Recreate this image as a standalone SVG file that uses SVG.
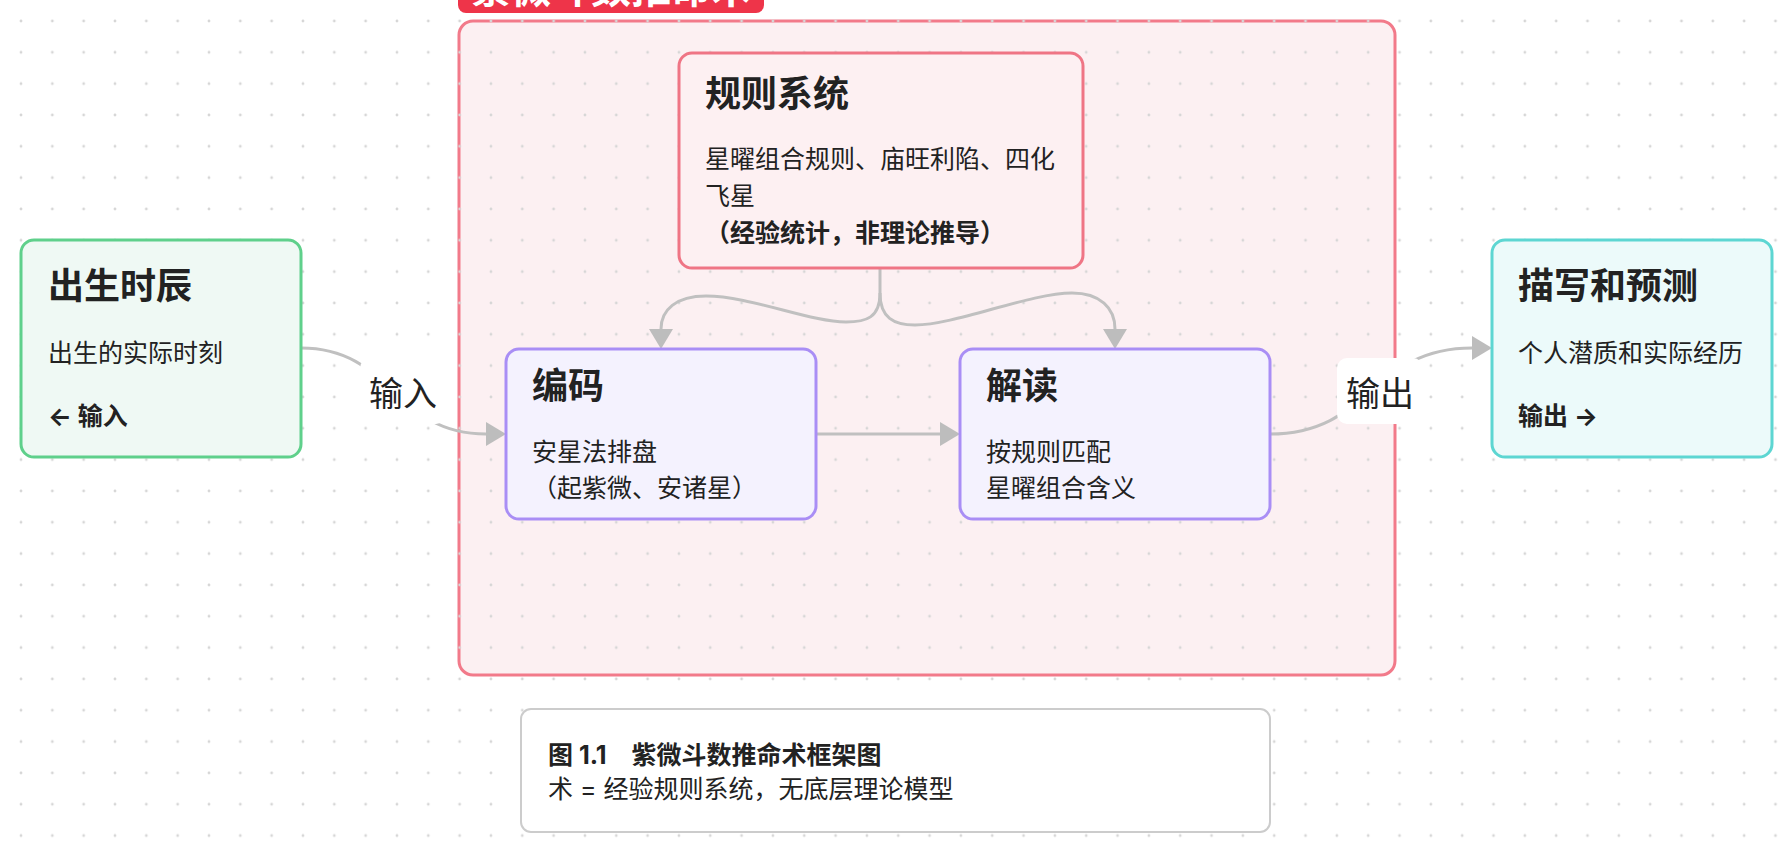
<svg xmlns="http://www.w3.org/2000/svg" width="1792" height="854" viewBox="0 0 1792 854">
<defs>
<pattern id="dots" patternUnits="userSpaceOnUse" x="5.335" y="5.335" width="31.33" height="31.33">
<circle cx="15.665" cy="15.665" r="1.4" fill="#d6d6d6"/>
</pattern>
<marker id="arr" markerUnits="userSpaceOnUse" markerWidth="20" markerHeight="24" refX="0" refY="12" orient="auto">
<path d="M0,0 L20,12 L0,24 z" fill="#bdbdbd"/>
</marker>
<style>
text{font-family:Inter,"Noto Sans CJK SC",sans-serif;fill:#222222;}
.title{font-size:36px;font-weight:700;}
.body{font-size:25px;font-weight:400;}
.bold{font-size:25px;font-weight:700;}
.elabel{font-size:34px;font-weight:400;text-anchor:middle;}
.edge{fill:none;stroke:#c0c0c0;stroke-width:3;}
.node{stroke-width:3;}
</style>
</defs>
<rect x="0" y="0" width="1792" height="854" fill="#ffffff"/>
<g id="cluster">
<rect x="459" y="21" width="936" height="654" rx="14" fill="#fcf0f2" stroke="#f27a8a" stroke-width="3"/>
</g>
<rect x="0" y="0" width="1792" height="854" fill="url(#dots)"/>
<g id="cluster-label">
<rect x="458" y="-30" width="306" height="43" rx="8" fill="#ee3449"/>
<text x="611" y="3" text-anchor="middle" style="font-size:40px;font-weight:700;fill:#ffffff;">紫微斗数推命术</text>
</g>
<g id="connectors">
<path class="edge" d="M301,348 C393,348 393,434 486,434" marker-end="url(#arr)"/>
<path class="edge" d="M816,434 L940,434" marker-end="url(#arr)"/>
<path class="edge" d="M1270,434 C1371,434 1371,348 1472,348" marker-end="url(#arr)"/>
<path class="edge" d="M880,268 L880,293 C880,318 866,322 846,322 C810,322 750,296 706,296 C676,296 661,310 661,329" marker-end="url(#arr)"/>
<path class="edge" d="M880,293 C880,318 894,325 915,325 C955,325 1030,293 1072,293 C1100,293 1115,308 1115,329" marker-end="url(#arr)"/>
<g id="label-input">
<rect x="360" y="358" width="86" height="66" rx="10" fill="#ffffff"/>
<text class="elabel" x="403" y="406">输入</text>
</g>
<g id="label-output">
<rect x="1337" y="358" width="86" height="66" rx="10" fill="#ffffff"/>
<text class="elabel" x="1380" y="406">输出</text>
</g>
</g>
<g id="node-birth">
<rect class="node" x="21" y="240" width="280" height="217" rx="13" fill="#eff9f4" stroke="#5fd08b"/>
<text class="title" x="48" y="299">出生时辰</text>
<text class="body" x="48" y="362">出生的实际时刻</text>
<text class="bold" x="48" y="425">← 输入</text>
</g>
<g id="node-rules">
<rect class="node" x="679" y="53" width="404" height="215" rx="13" fill="#fdf0f2" stroke="#ef7585"/>
<text class="title" x="705" y="107">规则系统</text>
<text class="body" x="705" y="168">星曜组合规则、庙旺利陷、四化</text>
<text class="body" x="705" y="205">飞星</text>
<text class="bold" x="705" y="242">（经验统计，非理论推导）</text>
</g>
<g id="node-encode">
<rect class="node" x="506" y="349" width="310" height="170" rx="13" fill="#f4f2fe" stroke="#a98ef5"/>
<text class="title" x="532" y="399">编码</text>
<text class="body" x="532" y="461">安星法排盘</text>
<text class="body" x="532" y="497">（起紫微、安诸星）</text>
</g>
<g id="node-interpret">
<rect class="node" x="960" y="349" width="310" height="170" rx="13" fill="#f4f2fe" stroke="#a98ef5"/>
<text class="title" x="986" y="399">解读</text>
<text class="body" x="986" y="461">按规则匹配</text>
<text class="body" x="986" y="497">星曜组合含义</text>
</g>
<g id="node-predict">
<rect class="node" x="1492" y="240" width="280" height="217" rx="13" fill="#ecfafa" stroke="#5dd6d2"/>
<text class="title" x="1518" y="299">描写和预测</text>
<text class="body" x="1518" y="362">个人潜质和实际经历</text>
<text class="bold" x="1518" y="425">输出 →</text>
</g>
<g id="caption">
<rect x="521" y="709" width="749" height="123" rx="10" fill="#ffffff" stroke="#cccccc" stroke-width="2"/>
<text class="bold" x="548" y="764">图 1.1　紫微斗数推命术框架图</text>
<text class="body" x="548" y="798">术 = 经验规则系统，无底层理论模型</text>
</g>
</svg>
